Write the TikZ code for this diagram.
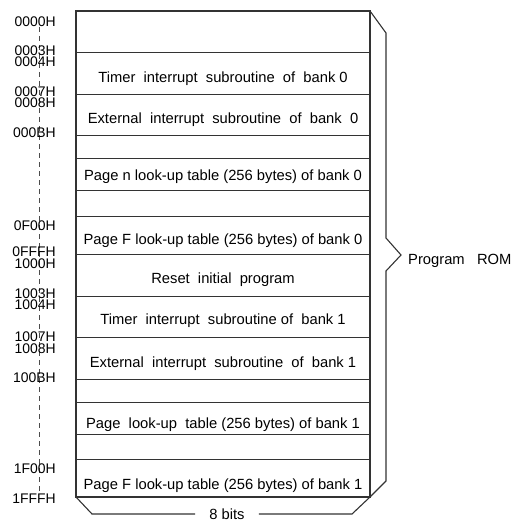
\documentclass[tikz,border=0pt]{standalone}
\usepackage{fontspec}
\setmainfont{Liberation Sans}
\begin{document}
\begin{tikzpicture}[x=1bp,y=-1bp,
  mem/.style={draw=black!80, line width=1.1pt},
  sep/.style={draw=black!80, line width=0.8pt},
  dashline/.style={draw=black!70, line width=0.6pt, dash pattern=on 5bp off 4bp},
  txt/.style={font=\fontsize{14.8}{16}\selectfont, inner sep=0pt, anchor=base},
  addr/.style={font=\fontsize{14}{16}\selectfont, inner sep=0pt, text height=10bp, text depth=0pt, anchor=base east},
  ]
\useasboundingbox (0,0) rectangle (513,522);
% dashed address axis
\coordinate (dtop) at (39,27);
\coordinate (dbot) at (39,493);
\draw[dashline] (dtop) -- (dbot);
% memory block
\draw[mem] (76,11) rectangle (370,497);
\foreach \y in {52,94,135,158,190,216,254,296,337,379,402,434,459}
  \draw[sep] (76,\y) -- (370,\y);
% right brace
\coordinate (tr) at (370,11);
\coordinate (br) at (370,497);
\coordinate (bl) at (76,497);
\draw[mem] (tr) -- (386,33) -- (386,238) -- (401,255) -- (386,271) -- (386,481) -- (br);
% 8 bits
\node[txt, anchor=center, inner xsep=14bp] (bits) at (227,514) {8 bits};
\draw[mem] (bl) -- (92,514) -- (bits.west |- 0,514);
\draw[mem] (bits.east |- 0,514) -- (352,514) -- (br);
% texts
\node[txt] (t1) at (223,83) {Timer\ \ interrupt\ \ subroutine\ \ of\ \ bank 0};
\node[txt] (t2) at (223,124) {External\ \ interrupt\ \ subroutine\ \ of\ \ bank\ \ 0};
\node[txt] (t3) at (223,181) {Page n look-up table (256 bytes) of bank 0};
\node[txt] (t4) at (223,244) {Page F look-up table (256 bytes) of bank 0};
\node[txt] (t5) at (223,283) {Reset\ \ initial\ \ program};
\node[txt] (t6) at (223,324) {Timer\ \ interrupt\ \ subroutine of\ \ bank 1};
\node[txt] (t7) at (223,367) {External\ \ interrupt\ \ subroutine\ \ of\ \ bank 1};
\node[txt] (t8) at (223,428) {Page\ \ look-up\ \ table (256 bytes) of bank 1};
\node[txt] (t9) at (223,489) {Page F look-up table (256 bytes) of bank 1};
\node[txt, anchor=base west] (rom) at (408,264) {Program\ \ \ ROM};
% addresses
\node[addr] (a1) at (56,27) {0000H};
\node[addr] (a2) at (56,55.5) {0003H};
\node[addr] (a3) at (56,66.5) {0004H};
\node[addr] (a4) at (56,96.5) {0007H};
\node[addr] (a5) at (56,107.5) {0008H};
\node[addr] (a6) at (56,138) {000BH};
\node[addr] (a7) at (56,230) {0F00H};
\node[addr] (a8) at (56,256) {0FFFH};
\node[addr] (a9) at (56,268) {1000H};
\node[addr] (a10) at (56,298.5) {1003H};
\node[addr] (a11) at (56,309.5) {1004H};
\node[addr] (a12) at (56,341) {1007H};
\node[addr] (a13) at (56,353) {1008H};
\node[addr] (a14) at (56,382) {100BH};
\node[addr] (a15) at (56,473) {1F00H};
\node[addr] (a16) at (56,503) {1FFFH};
\end{tikzpicture}
\end{document}
